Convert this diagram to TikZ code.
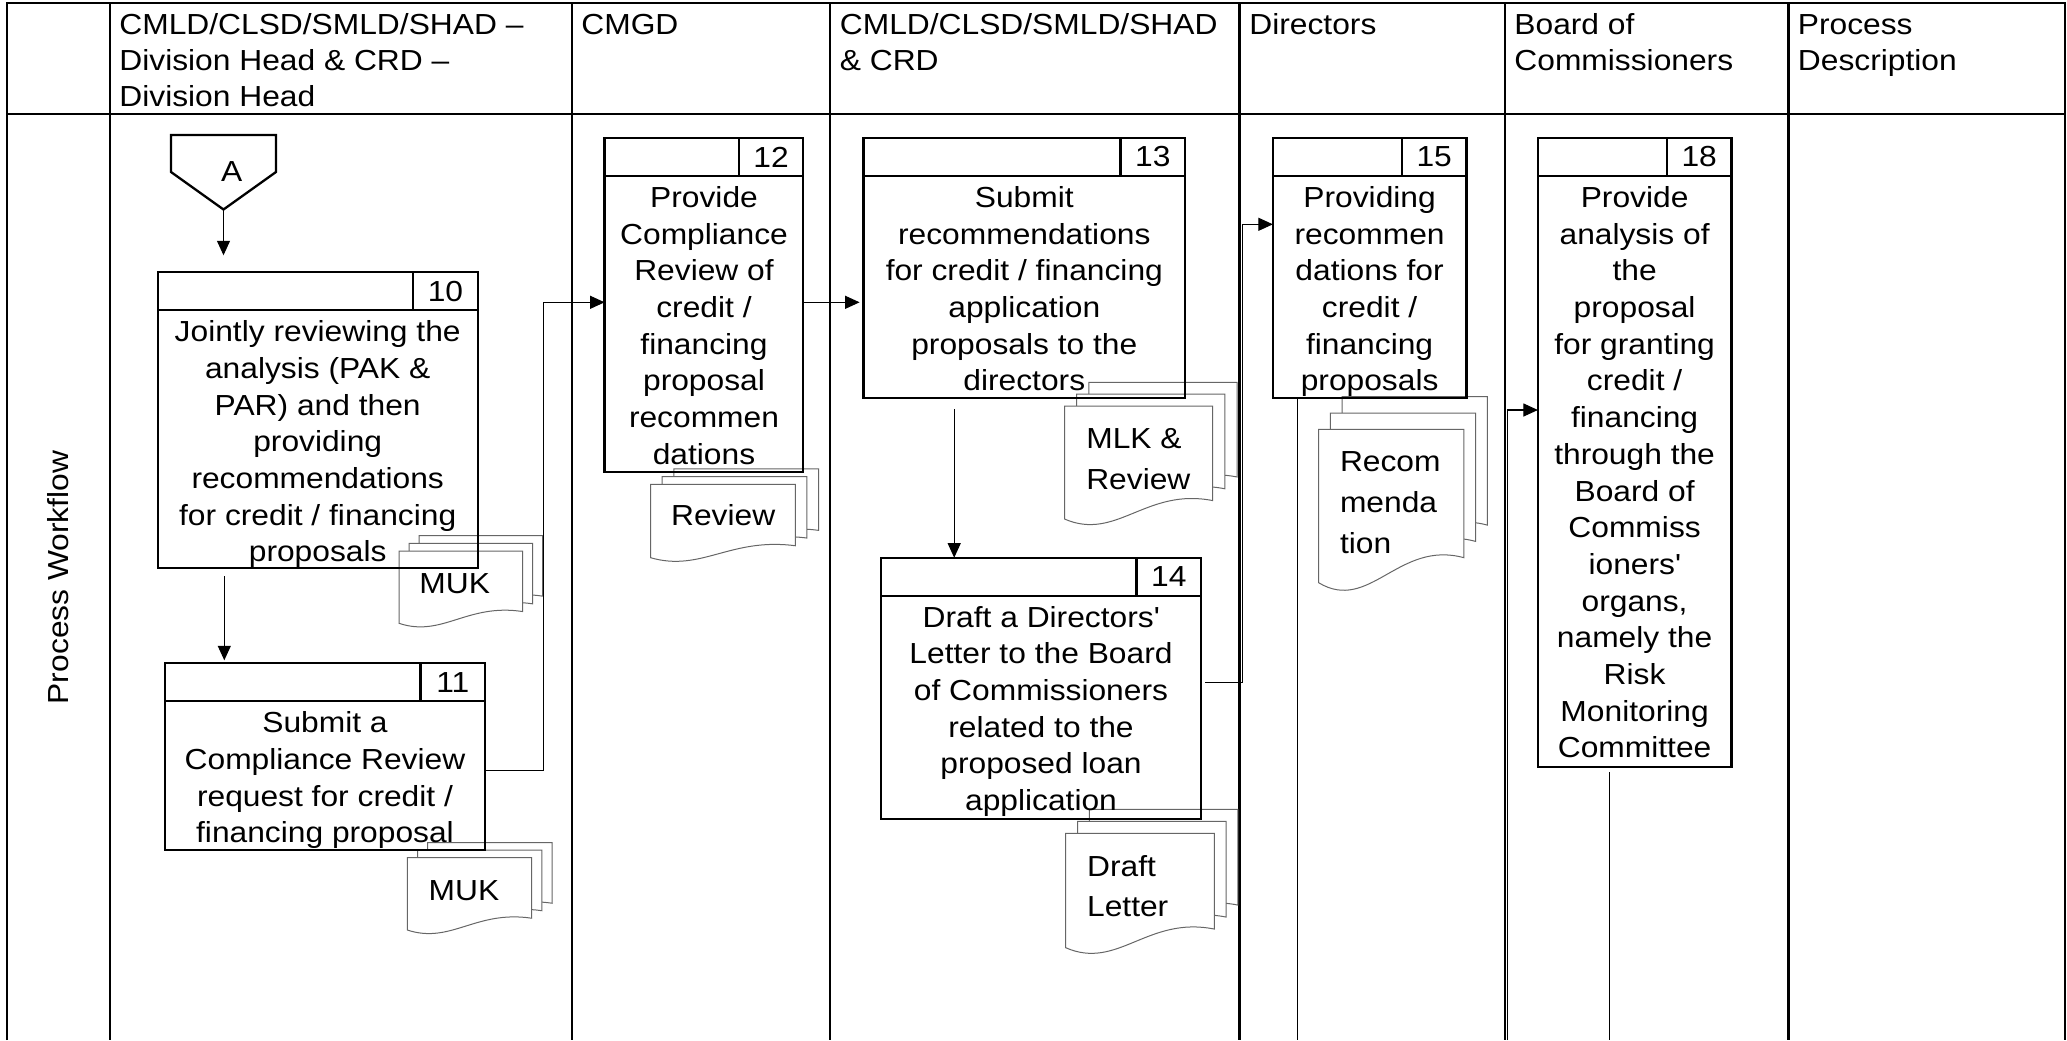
\documentclass[tikz,border=0pt]{standalone}
\usepackage{fontspec}
\setmainfont{Liberation Sans}[FakeStretch=1.095]
\usetikzlibrary{arrows.meta}
\newcommand{\fl}{\rule{0pt}{12pt}}
\newcommand{\procbox}[6]{%
  \node[pbox, minimum width={(#4-#2)*0.5pt}, minimum height={(#5-#3)*0.5pt}] (#1) at ({(#2+#4)/2},{(#3+#5)/2}) {};
  \draw[line width=1.15pt] ({#2},{#3+38}) -- ({#4},{#3+38});
  \draw[line width=1.15pt] ({#4-64.5},{#3}) -- ({#4-64.5},{#3+38});
  \node[txt] (#1n) at ({#4-32.25},{#3+19}) {#6};
}
\newcommand{\docpage}[4]{%
  \path[docline] ({#1},{#2}) -- ({#1+#3},{#2}) -- ({#1+#3},{#2+0.837*#4})
    .. controls ({#1+0.55*#3},{#2+0.72*#4}) and ({#1+0.35*#3},{#2+1.2*#4}) .. ({#1},{#2+#4}) -- cycle;}
\newcommand{\docstack}[6]{%
  \docpage{#1+2*#5}{#2-2*#6}{#3}{#4}%
  \docpage{#1+#5}{#2-#6}{#3}{#4}%
  \docpage{#1}{#2}{#3}{#4}}
\begin{document}
\begin{tikzpicture}[x=0.5pt,y=-0.5pt,
  tab/.style={line width=1.15pt},
  pbox/.style={draw, line width=1.15pt, inner sep=0pt, outer sep=0pt},
  txt/.style={inner sep=0pt, align=center, font=\fontsize{14.5pt}{18.35pt}\selectfont},
  hdr/.style={inner sep=0pt, align=left, anchor=north west, font=\fontsize{14.5pt}{17.85pt}\selectfont},
  doctxt/.style={inner sep=0pt, align=left, anchor=north west, font=\fontsize{14.5pt}{20.2pt}\selectfont},
  docline/.style={draw=black!60, fill=white, line width=0.5pt},
  conn/.style={draw=black, line width=0.55pt},
  arr/.style={conn, -{Triangle[length=7.25pt,width=6.5pt]}},
]
\useasboundingbox (0,0) rectangle (2067,1040);

% table
\draw[tab] (7,1040) -- (7,2.7) -- (2065,2.7) -- (2065,1040);
\draw[tab] (7,114.3) -- (2065,114.3);
\foreach \cx in {110,572,830.3,1239.5,1505,1788.5}
  \draw[tab] (\cx,2.7) -- (\cx,1040);

% header texts
\node[hdr] (h1) at (119,10.5) {\fl CMLD/CLSD/SMLD/SHAD –\\Division Head \& CRD –\\Division Head};
\node[hdr] (h2) at (581,10.5) {\fl CMGD};
\node[hdr] (h3) at (839.5,10.5) {\fl CMLD/CLSD/SMLD/SHAD\\\& CRD};
\node[hdr] (h4) at (1249,10.5) {\fl Directors};
\node[hdr] (h5) at (1514,10.5) {\fl Board of\\Commissioners};
\node[hdr] (h6) at (1797.5,10.5) {\fl Process\\Description};
\node[txt, rotate=90] (pw) at (58.3,577.5) {Process Workflow};

% document stacks
\docstack{399}{551}{123.5}{72.3}{10}{7.7}
\docstack{407.3}{857.7}{124.4}{72.3}{10.2}{7.5}
\docstack{650.6}{484.3}{144.7}{73.4}{11.6}{7.7}
\docstack{1064.5}{406}{148.2}{113}{12.2}{11.8}
\docstack{1318.6}{429.3}{145.3}{153.4}{11.7}{16.3}
\docstack{1065.7}{833.3}{148.6}{114.4}{11.8}{12}

\node[doctxt] (d1) at (419,569.3) {\fl MUK};
\node[doctxt] (d2) at (428.3,876) {\fl MUK};
\node[doctxt] (d3) at (670.7,501) {\fl Review};
\node[doctxt] (d4) at (1085.9,424.3) {\fl MLK \&\\Review};
\node[doctxt, font=\fontsize{14.5pt}{20.6pt}\selectfont] (d5) at (1339.6,446.7) {\fl Recom\\menda\\tion};
\node[doctxt] (d6) at (1086.7,852) {\fl Draft\\Letter};

% off-page connector A
\draw[line width=1.15pt, line join=miter] (171,135) -- (276,135) -- (276,172) -- (223.5,209.5) -- (171,172) -- cycle;
\node[txt] (A) at (231.7,171.7) {A};
\coordinate (Ap) at (223.5,209.5);

% process boxes
\procbox{b10}{157.7}{272.3}{477.7}{568.3}{10}
\procbox{b11}{165}{663.3}{485}{850}{11}
\procbox{b12}{604.6}{138}{803.3}{471.7}{12}
\procbox{b13}{863.6}{138}{1185}{397.7}{13}
\procbox{b14}{881}{557.7}{1201}{819}{14}
\procbox{b15}{1272.9}{138}{1466.4}{398.3}{15}
\procbox{b18}{1537.9}{138}{1731.4}{766.7}{18}

\node[txt, anchor=north] (t10) at (317.7,317.3) {\fl Jointly reviewing the\\analysis (PAK \&\\PAR) and then\\providing\\recommendations\\for credit / financing\\proposals};
\node[txt, anchor=north] (t11) at (325,708.3) {\fl Submit a\\Compliance Review\\request for credit /\\financing proposal};
\node[txt, anchor=north] (t12) at (704,183) {\fl Provide\\Compliance\\Review of\\credit /\\financing\\proposal\\recommen\\dations};
\node[txt, anchor=north] (t13) at (1024.3,183) {\fl Submit\\recommendations\\for credit / financing\\application\\proposals to the\\directors};
\node[txt, anchor=north] (t14) at (1041,602.7) {\fl Draft a Directors\textquotesingle\\Letter to the Board\\of Commissioners\\related to the\\proposed loan\\application};
\node[txt, anchor=north] (t15) at (1369.6,183) {\fl Providing\\recommen\\dations for\\credit /\\financing\\proposals};
\node[txt, anchor=north] (t18) at (1634.6,183) {\fl Provide\\analysis of\\the\\proposal\\for granting\\credit /\\financing\\through the\\Board of\\Commiss\\ioners\textquotesingle\\organs,\\namely the\\Risk\\Monitoring\\Committee};

% connectors
\draw[arr, shorten >=8.5pt] (Ap) -- (Ap |- b10.north);
\coordinate (a10) at (224.3,576);
\draw[arr, shorten >=1.5pt] (a10) -- (a10 |- b11.north);
\coordinate (j1) at (543.3,770.7);
\coordinate (j2) at (543.3,302.3);
\draw[arr] (j1 -| b11.east) -- (j1) -- (j2) -- (j2 -| b12.west);
\draw[arr, shorten >=2pt] (b12.east |- j2) -- (b13.west |- j2);
\coordinate (j3) at (954.2,409.3);
\draw[arr] (j3) -- (j3 |- b14.north);
\coordinate (j4) at (1242.7,682.3);
\coordinate (j5) at (1242.7,224.3);
\draw[arr] ([xshift=2pt]j4 -| b14.east) -- (j4) -- (j5) -- (j5 -| b15.west);
\coordinate (e15) at (1297.9,1040);
\draw[conn] (e15 |- b15.south) -- (e15);
\coordinate (s18) at (1507.5,1040);
\coordinate (j6) at (1507.5,410);
\draw[arr] (s18) -- (j6) -- (j6 -| b18.west);
\coordinate (s18b) at (1609.3,772.3);
\coordinate (e18) at (1609.3,1040);
\draw[conn] (s18b) -- (e18);
\end{tikzpicture}
\end{document}
